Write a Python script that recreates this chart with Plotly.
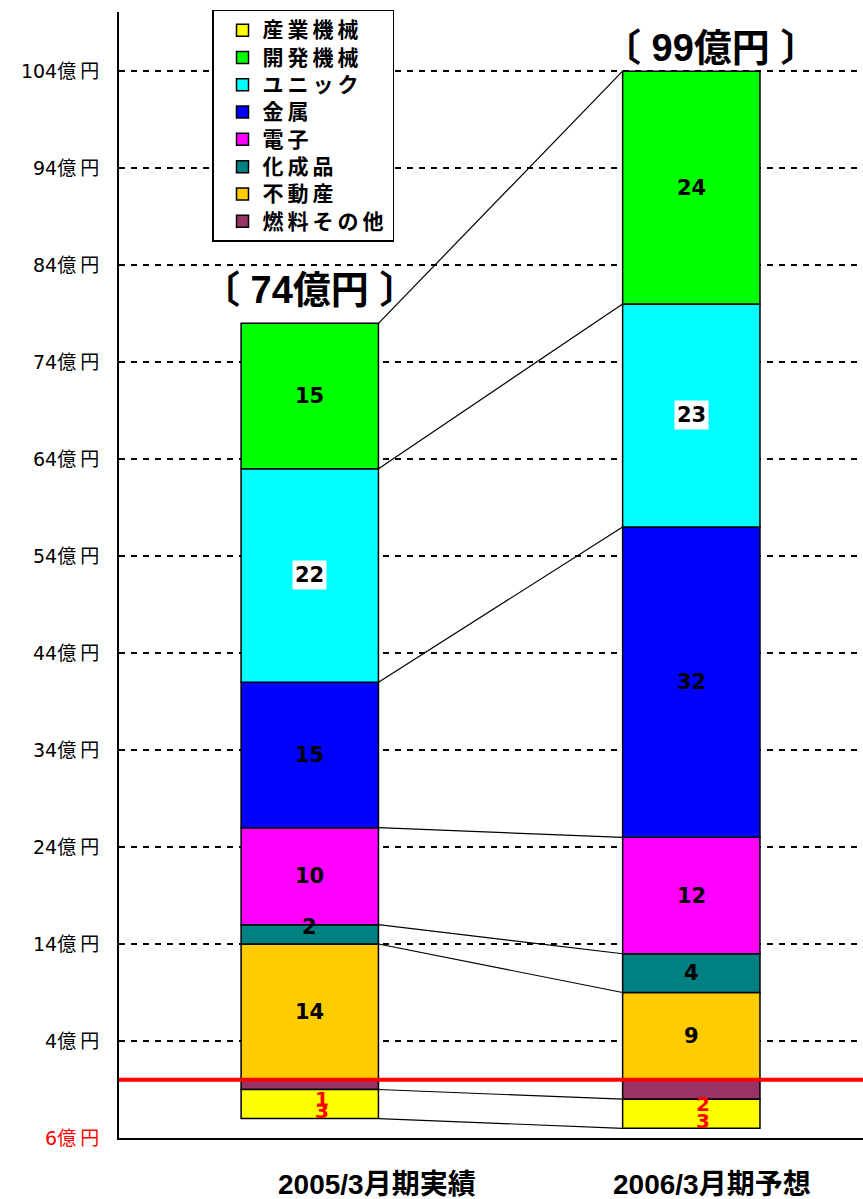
import plotly.graph_objects as go

# ---------------- data ----------------
categories = ["2005/3月期実績", "2006/3月期予想"]
legend_names = ["産業機械", "開発機械", "ユニック", "金属", "電子", "化成品", "不動産", "燃料その他"]

sangyo_kikai = [-3, -3]      # 産業機械 (loss)
kaihatsu_kikai = [15, 24]    # 開発機械
unic = [22, 23]              # ユニック
kinzoku = [15, 32]           # 金属
denshi = [10, 12]            # 電子
kaseihin = [2, 4]            # 化成品
fudosan = [14, 9]            # 不動産
nenryo_sonota = [-1, -2]     # 燃料その他 (loss)

y_tick_values = [-6, 4, 14, 24, 34, 44, 54, 64, 74, 84, 94, 104]

# ---------------- style ----------------
colors = {
    "産業機械": "#FFFF00",
    "開発機械": "#00FF00",
    "ユニック": "#00FFFF",
    "金属": "#0000FF",
    "電子": "#FF00FF",
    "化成品": "#008080",
    "不動産": "#FFCC00",
    "燃料その他": "#993366",
}
# stacking order (first = nearest the zero line)
stack = [
    ("燃料その他", nenryo_sonota),
    ("産業機械", sangyo_kikai),
    ("不動産", fudosan),
    ("化成品", kaseihin),
    ("電子", denshi),
    ("金属", kinzoku),
    ("ユニック", unic),
    ("開発機械", kaihatsu_kikai),
]

LATIN = "Liberation Sans, Arial, Noto Sans CJK JP, sans-serif"
WIDE = "DejaVu Sans, Noto Sans CJK JP, sans-serif"
CJK = "Noto Sans CJK JP, Liberation Sans, sans-serif"
xpos = [0, 1]
BAR_W = 0.36

fig = go.Figure()
pos = [0.0, 0.0]
neg = [0.0, 0.0]
bounds = [[], []]
annotations = []

for name, vals in stack:
    fig.add_trace(go.Bar(
        x=xpos, y=vals, width=BAR_W,
        name=f"<span style='font-size:21px;letter-spacing:4px'>{name}</span>",
        marker=dict(color=colors[name], line=dict(color="black", width=1.5)),
        legendrank=legend_names.index(name) + 1,
        hoverinfo="skip",
    ))
    for i, v in enumerate(vals):
        if v >= 0:
            base = pos[i]; pos[i] += v; top = pos[i]
        else:
            base = neg[i]; neg[i] += v; top = neg[i]
        bounds[i].append(top)
        mid = (base + top) / 2
        if v < 0:
            ysh = -14 if name == "燃料その他" else -7
            annotations.append(dict(
                x=xpos[i], y=mid, xref="x", yref="y", text=str(abs(v)),
                showarrow=False, xshift=12, yshift=ysh,
                font=dict(family=WIDE, size=20, color="#FF0000", weight="bold"),
            ))
        else:
            ann = dict(
                x=xpos[i], y=mid, xref="x", yref="y", text=str(abs(v)),
                showarrow=False,
                font=dict(family=WIDE, size=21, color="black", weight="bold"),
            )
            if name == "ユニック":
                ann.update(bgcolor="white", borderpad=2)
            if name == "化成品" and v < 3:
                ann.update(yshift=7)
            annotations.append(ann)

# connecting lines between the two bars at each segment boundary
for j in range(len(stack)):
    fig.add_trace(go.Scatter(
        x=[xpos[0] + BAR_W / 2, xpos[1] - BAR_W / 2],
        y=[bounds[0][j], bounds[1][j]],
        mode="lines", line=dict(color="black", width=1.2),
        showlegend=False, hoverinfo="skip",
    ))

# totals
total_yshift = [33, 23]
total_xshift = [0, 19]
for i in range(2):
    total = pos[i] + neg[i]
    annotations.append(dict(
        x=xpos[i], y=pos[i], xref="x", yref="y",
        text=f"〔 {int(total)}億円 〕", showarrow=False,
        yanchor="middle", yshift=total_yshift[i], xshift=total_xshift[i],
        font=dict(family=LATIN, size=38, color="black", weight="bold"),
    ))

# category labels
cat_xshift = [67, 21]
for i, c in enumerate(categories):
    annotations.append(dict(
        x=xpos[i], y=0, xref="x", yref="paper", text=c, showarrow=False,
        yanchor="middle", yshift=-46, xshift=cat_xshift[i],
        font=dict(family=LATIN, size=28, color="black", weight="bold"),
    ))

unit = "<span style='letter-spacing:4px'>億円</span>"
tick_text = [
    (f"<span style='color:#FF0000'>{abs(v)}{unit}</span>" if v < 0 else f"{v}{unit}")
    for v in y_tick_values
]

fig.update_layout(
    width=863, height=1199,
    margin=dict(l=119, r=0, t=12, b=61),
    paper_bgcolor="white", plot_bgcolor="white",
    barmode="relative",
    showlegend=True,
    legend=dict(
        x=0.125, y=1.0018, xanchor="left", yanchor="top",
        bgcolor="white", bordercolor="black", borderwidth=1.5,
        font=dict(family=CJK, size=18.7, color="black", weight="bold"),
        traceorder="normal", itemwidth=30, indentation=9,
    ),
    annotations=annotations,
    shapes=[dict(
        type="line", xref="paper", x0=0, x1=1, yref="y", y0=0, y1=0,
        line=dict(color="#FF0000", width=4), layer="above",
    )],
)
fig.update_xaxes(
    range=[-0.5, 1.45], showticklabels=False, showgrid=False, zeroline=False,
    showline=True, linecolor="black", linewidth=2, ticks="",
)
fig.update_yaxes(
    range=[-6, 110.1], tickvals=y_tick_values, ticktext=tick_text,
    showgrid=True, gridcolor="black", gridwidth=1.5, griddash="6px,6px",
    zeroline=False, showline=True, linecolor="black", linewidth=2,
    ticks="", ticklabelstandoff=10,
    tickfont=dict(family=WIDE, size=19, color="black"),
)

fig.write_html("out.html", config={"displayModeBar": False},
               post_script="document.body.style.margin='0px';")
